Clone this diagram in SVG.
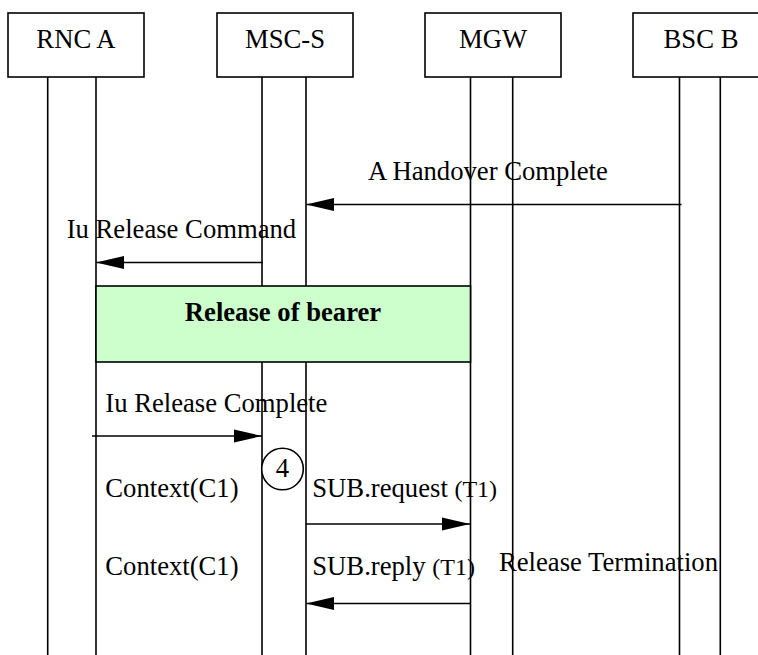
<svg xmlns="http://www.w3.org/2000/svg" width="758" height="655" viewBox="0 0 758 655">
<style>
  .box{fill:#fff;stroke:#000;stroke-width:1.6}
  .life{stroke:#000;stroke-width:1.6;fill:none}
  .msg{stroke:#000;stroke-width:1.6;fill:none;marker-end:url(#ah)}
  text{font-family:"Liberation Serif","Times New Roman",serif;font-size:26.67px;fill:#000}
  .c{text-anchor:middle}
  .sm{font-size:24px}
</style>
<defs>
  <marker id="ah" markerUnits="userSpaceOnUse" markerWidth="29" markerHeight="14" refX="28" refY="6.5" orient="auto" overflow="visible">
    <path d="M0,0 L28,6.5 L0,13 z" fill="#000"/>
  </marker>
</defs>
<rect width="758" height="655" fill="#fff"/>
<g id="rnc-a">
  <rect class="box" x="8" y="13" width="136" height="64"/>
  <text class="c" x="76" y="48">RNC A</text>
  <line class="life" x1="47.7" y1="77" x2="47.7" y2="655"/>
  <line class="life" x1="96" y1="77" x2="96" y2="655"/>
</g>
<g id="msc-s">
  <rect class="box" x="217" y="13" width="136" height="64"/>
  <text class="c" x="285" y="48">MSC-S</text>
  <line class="life" x1="262" y1="77" x2="262" y2="655"/>
  <line class="life" x1="306" y1="77" x2="306" y2="655"/>
</g>
<g id="mgw">
  <rect class="box" x="425" y="13" width="136" height="64"/>
  <text class="c" x="493" y="48">MGW</text>
  <line class="life" x1="470.5" y1="77" x2="470.5" y2="655"/>
  <line class="life" x1="512.7" y1="77" x2="512.7" y2="655"/>
</g>
<g id="bsc-b">
  <rect class="box" x="633" y="13" width="136" height="64"/>
  <text class="c" x="701" y="48">BSC B</text>
  <line class="life" x1="679.5" y1="77" x2="679.5" y2="655"/>
  <line class="life" x1="720.3" y1="77" x2="720.3" y2="655"/>
</g>
<g id="release-of-bearer">
  <rect x="96" y="286" width="374.5" height="76" fill="#ccffcc" stroke="#000" stroke-width="1.6"/>
  <text class="c" x="283" y="321" font-weight="bold">Release of bearer</text>
</g>
<g id="marker-4">
  <circle cx="282.5" cy="469" r="20.8" fill="#fff" stroke="#000" stroke-width="1.6"/>
  <text class="c" x="282.5" y="477">4</text>
</g>
<g id="connectors">
  <line class="msg" x1="681.5" y1="204.5" x2="306" y2="204.5"/>
  <line class="msg" x1="263" y1="262.5" x2="96" y2="262.5"/>
  <line class="msg" x1="92" y1="436" x2="262" y2="436"/>
  <line class="msg" x1="306" y1="524" x2="470" y2="524"/>
  <line class="msg" x1="470.5" y1="603.5" x2="306" y2="603.5"/>
</g>
<g id="labels">
  <text x="368" y="180">A Handover Complete</text>
  <text x="66.7" y="238">Iu Release Command</text>
  <text x="105.3" y="412">Iu Release Complete</text>
  <text x="105.3" y="497">Context(C1)</text>
  <text x="105.3" y="575">Context(C1)</text>
  <text x="312.3" y="497">SUB.request <tspan class="sm">(T1)</tspan></text>
  <text x="312.3" y="575">SUB.reply <tspan class="sm">(T1)</tspan></text>
  <text x="499" y="571">Release Termination</text>
</g>
</svg>
